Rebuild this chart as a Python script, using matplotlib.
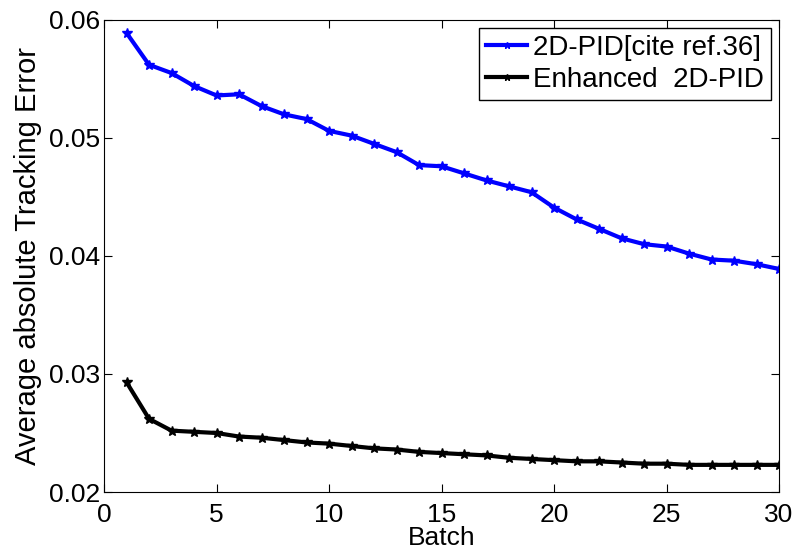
import matplotlib.pyplot as plt
import numpy as np

plt.rcParams["font.family"] = ["Liberation Sans", "DejaVu Sans"]

batch = np.arange(1, 31)
pid_ref36 = [0.0589, 0.0562, 0.0555, 0.0544, 0.0536, 0.0537, 0.0527, 0.0520, 0.0516, 0.0506,
             0.0502, 0.0495, 0.0488, 0.0477, 0.0476, 0.0470, 0.0464, 0.0459, 0.0454, 0.0441,
             0.0431, 0.0423, 0.0415, 0.0410, 0.0408, 0.0402, 0.0397, 0.0396, 0.0393, 0.0389]
pid_enhanced = [0.0293, 0.0262, 0.0252, 0.0251, 0.0250, 0.0247, 0.0246, 0.0244, 0.0242, 0.0241,
                0.0239, 0.0237, 0.0236, 0.0234, 0.0233, 0.0232, 0.0231, 0.0229, 0.0228, 0.0227,
                0.0226, 0.0226, 0.0225, 0.0224, 0.0224, 0.0223, 0.0223, 0.0223, 0.0223, 0.0223]

fig = plt.figure(figsize=(7.96, 5.6), dpi=100)
ax = fig.add_axes([0.1307, 0.1214, 0.848, 0.843])

ax.plot(batch, pid_ref36, color="#0000ff", linewidth=3, marker="*", markersize=7,
        label="2D-PID[cite ref.36]")
ax.plot(batch, pid_enhanced, color="black", linewidth=3, marker="*", markersize=7,
        label="Enhanced  2D-PID")

ax.set_xlim(0, 30)
ax.set_ylim(0.02, 0.06)
ax.set_xticks([0, 5, 10, 15, 20, 25, 30])
ax.set_yticks([0.02, 0.03, 0.04, 0.05, 0.06])
ax.set_yticklabels(["0.02", "0.03", "0.04", "0.05", "0.06"])
ax.tick_params(direction="in", top=True, right=True, labelsize=19, length=6)
ax.tick_params(axis="x", pad=8)
ax.tick_params(axis="y", pad=3)
ax.set_xlabel("Batch", fontsize=19, labelpad=-1)
ax.set_ylabel("Average absolute Tracking Error", fontsize=21, labelpad=5)

leg = ax.legend(loc="upper right", fontsize=20, handlelength=1.5, handletextpad=0.2,
                borderpad=0.25, labelspacing=0.2, fancybox=False, borderaxespad=0.3,
                numpoints=1, markerscale=0.7)
leg.get_frame().set_edgecolor("black")
leg.get_frame().set_linewidth(1)
leg.get_frame().set_alpha(1)

fig.savefig("out.png", dpi=100)
